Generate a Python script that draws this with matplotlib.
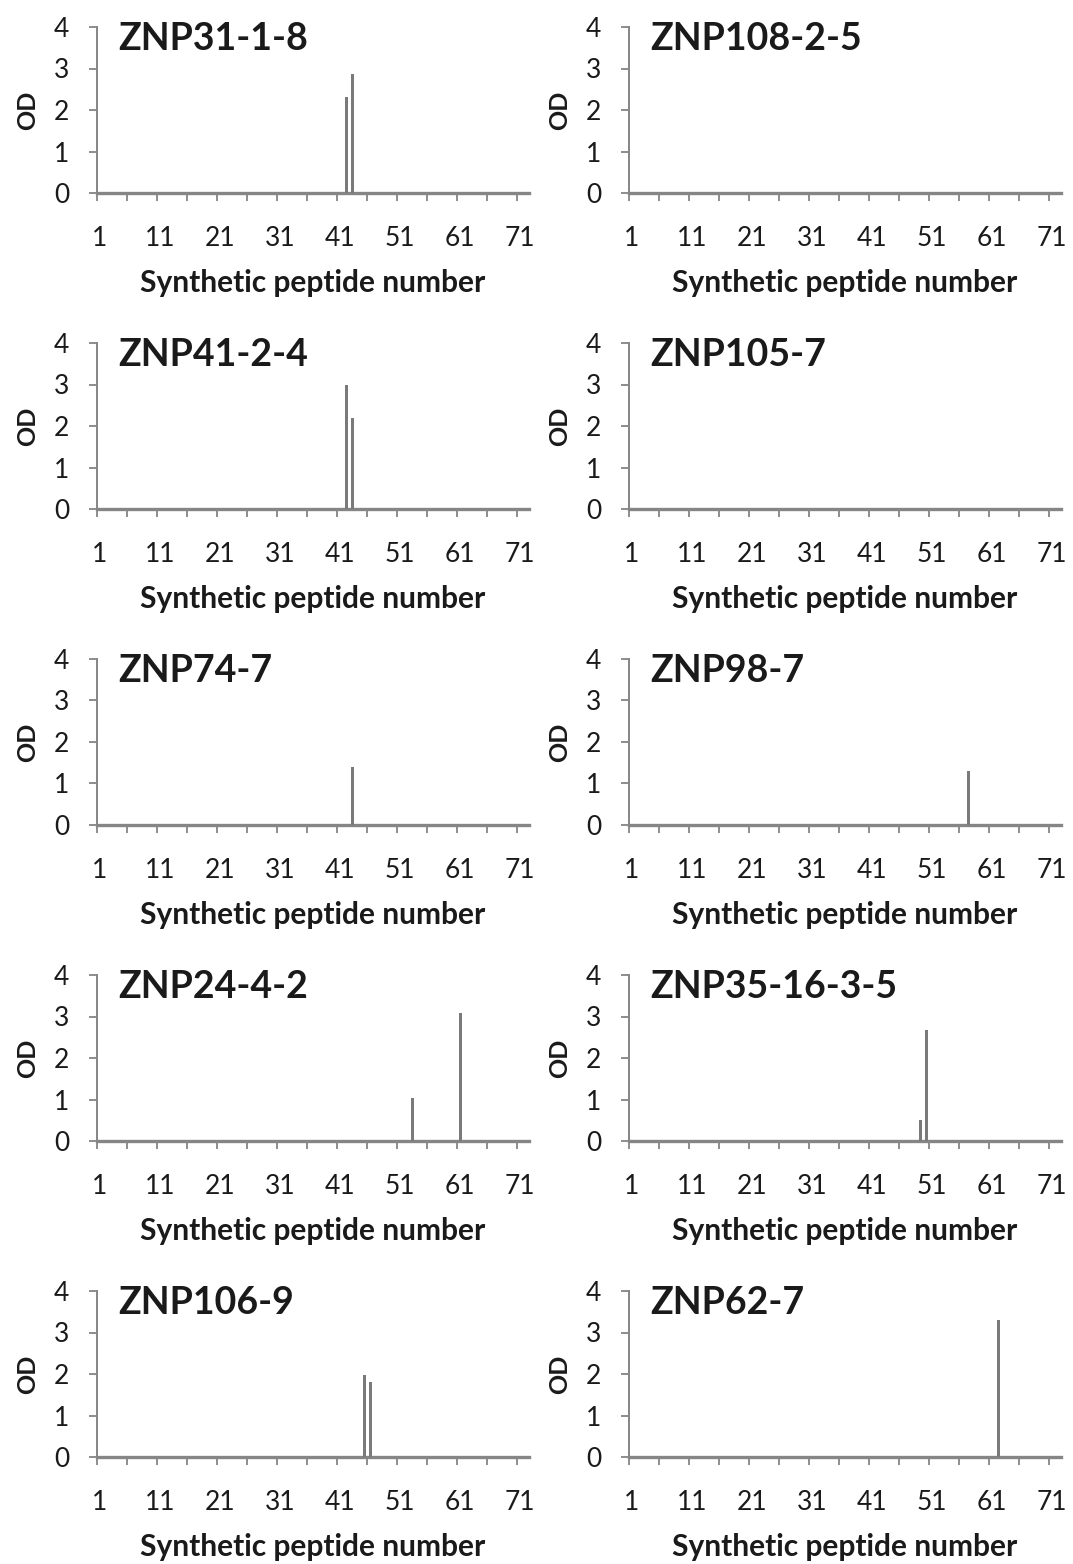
import numpy as np
import matplotlib
matplotlib.use('Agg')
import matplotlib.pyplot as plt
from matplotlib.ticker import FixedLocator

plt.rcParams['font.family'] = ['Lato', 'DejaVu Sans']

# 肽编号 1..72
peptides = np.arange(1, 73)

# 每个面板的名字，峰所在的肽编号和 OD 值（其余为 0）
names = ['ZNP31-1-8', 'ZNP108-2-5',
         'ZNP41-2-4', 'ZNP105-7',
         'ZNP74-7', 'ZNP98-7',
         'ZNP24-4-2', 'ZNP35-16-3-5',
         'ZNP106-9', 'ZNP62-7']
peak_ids = [[42, 43], [],
            [42, 43], [],
            [43], [57],
            [53, 61], [49, 50],
            [45, 46], [62]]
peak_od = [[2.32, 2.87], [],
           [2.98, 2.20], [],
           [1.40], [1.31],
           [1.03, 3.08], [0.50, 2.67],
           [1.97, 1.81], [3.29]]

xtick_labels = [1, 11, 21, 31, 41, 51, 61, 71]
ytick_vals = [0, 1, 2, 3, 4]

W, H = 1073, 1564
fig = plt.figure(figsize=(W / 100, H / 100), dpi=100)

col_left = [97, 629]
ax_w = 432
zero_y = [193, 509, 825, 1141, 1457]
ax_h = 166
gray = '#858585'

for i, name in enumerate(names):
    row, col = divmod(i, 2)
    ax = fig.add_axes([col_left[col] / W, 1 - zero_y[row] / H, ax_w / W, ax_h / H])

    od = np.zeros(len(peptides))
    for p, v in zip(peak_ids[i], peak_od[i]):
        od[p - 1] = v
    ax.bar(peptides, od, width=0.5, color='#7a7a7a', zorder=3)

    ax.set_xlim(0.5, 72.5)
    ax.set_ylim(0, 4)
    for s in ['top', 'right']:
        ax.spines[s].set_visible(False)
    ax.spines['left'].set_color(gray)
    ax.spines['left'].set_linewidth(1.4)
    ax.spines['bottom'].set_color(gray)
    ax.spines['bottom'].set_linewidth(2.4)

    ax.set_xticks(xtick_labels)
    ax.xaxis.set_minor_locator(FixedLocator(np.arange(0.5, 71, 5)))
    ax.tick_params(axis='x', which='major', length=0, pad=24, labelsize=19, labelcolor='#1a1a1a')
    ax.tick_params(axis='x', which='minor', length=6, width=1.3, color=gray, direction='out')
    ax.set_yticks(ytick_vals)
    ax.tick_params(axis='y', length=6, width=1.3, color=gray, pad=14, labelsize=19, labelcolor='#1a1a1a')

    ax.set_xlabel('Synthetic peptide number', fontsize=21.5, fontweight='bold', color='#1a1a1a')
    ax.xaxis.set_label_coords(0.5, -0.54)
    ax.xaxis.label.set_va('center')
    ax.set_ylabel('OD', fontsize=18, fontweight='bold', color='#1a1a1a')
    ax.yaxis.set_label_coords(-0.16, 0.5)
    ax.yaxis.label.set_va('center')

    ax.text(4, 3.45, name, fontsize=27, fontweight='bold', color='#1a1a1a',
            ha='left', va='baseline', zorder=4)

fig.savefig('out.png', dpi=100)
